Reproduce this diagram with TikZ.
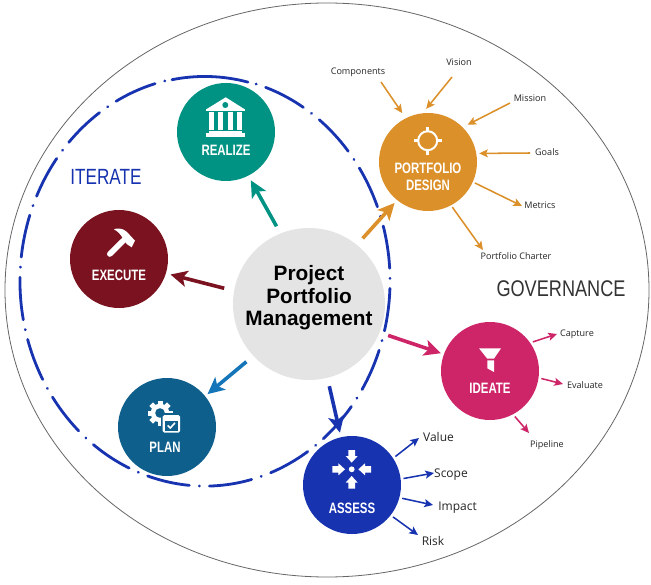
\documentclass[tikz,border=0pt]{standalone}
\usepackage{fontspec}
\usetikzlibrary{arrows.meta}
\setmainfont{Liberation Sans}
\newfontfamily\opensans{Open Sans}
\definecolor{cteal}{HTML}{009383}
\definecolor{corange}{HTML}{DC9029}
\definecolor{cmaroon}{HTML}{7B1220}
\definecolor{cplan}{HTML}{0F5F8C}
\definecolor{cplanar}{HTML}{1475B8}
\definecolor{cblue}{HTML}{1733B0}
\definecolor{cpink}{HTML}{CE2568}
\definecolor{ccenter}{HTML}{E4E4E4}
\newcommand{\cond}[2][.76]{\scalebox{#1}[1]{#2}}
\tikzset{
  x=0.75pt,y=-0.75pt,
  disc/.style={circle,draw=none,fill=#1,minimum size=73.5pt,inner sep=0pt},
  disclabel/.style={text=white,font=\fontsize{11.3}{12.5}\selectfont\bfseries,align=center,inner sep=0pt},
  mainarrow/.style n args={3}{draw=#1,line width=2.7pt,-{Stealth[length=12.5pt,width=12pt,inset=3pt]},shorten <=#2,shorten >=#3},
  subarrow/.style={draw=#1,line width=1.15pt,-{Stealth[length=6.5pt,width=6pt,inset=1.4pt]}},
  small/.style={font=\opensans\fontsize{6.8}{8}\selectfont,text=black!85,inner sep=0pt,text height=5pt,text depth=0pt},
  medium/.style={font=\opensans\fontsize{9}{11}\selectfont,text=black!85,inner sep=0pt,text height=6.6pt,text depth=0pt},
  icon/.style={fill=white,draw=none},
  loop line/.style={cblue,line width=2.1pt,line cap=round},
}
\begin{document}
\begin{tikzpicture}
\useasboundingbox (0,0) rectangle (651,585);
\fill[white] (0,0) rectangle (651,585);
% enclosing ellipses
\draw[black!60,line width=0.6pt] (327,290) ellipse [x radius=322,y radius=287];
\draw[loop line,dash pattern=on 32.13pt off 7.45pt on 0.2pt off 7.45pt,dash phase=39.58pt]
  (256,84) arc [start angle=-74,end angle=257.8,x radius=185,y radius=205];
\draw[loop line] (172,79.7) arc [start angle=259.8,end angle=283.5,x radius=185,y radius=205];

% main nodes
\node[disc=ccenter,minimum size=114pt] (center) at (309,304) {};
\node[disc=cteal] (realize) at (226,132) {};
\node[disc=corange] (design) at (428,162) {};
\node[disc=cmaroon] (execute) at (119,259) {};
\node[disc=cplan] (plan) at (167,427) {};
\node[disc=cblue] (assess) at (352,485) {};
\node[disc=cpink] (ideate) at (490,371) {};

% titles
\node[font=\fontsize{15.6}{17}\selectfont\bfseries,align=center,inner sep=0pt] (title) at (309,298) {Project\\Portfolio\\Management};
\node[disclabel] (lrealize) at (226,150.5) {\cond{REALIZE}};
\node[disclabel] (ldesign) at (428,176.5) {\cond{PORTFOLIO}\\\cond{DESIGN}};
\node[disclabel] (lexecute) at (119,275.7) {\cond{EXECUTE}};
\node[disclabel] (lplan) at (165,447.5) {\cond{PLAN}};
\node[disclabel] (lassess) at (352,508.3) {\cond{ASSESS}};
\node[disclabel] (lideate) at (490,388.7) {\cond{IDEATE}};
\node[font=\fontsize{17}{20}\selectfont,text=black!80,inner sep=0pt] (gov) at (561,289) {\cond[.8]{GOVERNANCE}};
\node[font=\fontsize{16.5}{18}\selectfont,text=cblue,inner sep=0pt] (iter) at (106,177) {\cond[.78]{ITERATE}};

% main arrows
\draw[mainarrow={cteal}{6pt}{3.8pt}] (center.112) -- (realize.-63);
\draw[mainarrow={corange}{6.4pt}{2.7pt}] (center.51) -- (design.-129);
\draw[mainarrow={cmaroon}{7.5pt}{3.4pt}] (center.170.6) -- (execute.-17);
\draw[mainarrow={cplanar}{6.7pt}{2.2pt}] (center.-137) -- (plan.39.5);
\draw[mainarrow={cblue}{6.3pt}{3.3pt}] (center.-76.3) -- (assess.103);
\draw[mainarrow={cpink}{6.7pt}{2.2pt}] (center.-22) -- (ideate.160);

% portfolio design satellites
\node[small] (components) at (358,71) {Components};
\node[small] (vision) at (459,62) {Vision};
\node[small] (mission) at (530,98) {Mission};
\node[small] (goals) at (547,152) {Goals};
\node[small] (metrics) at (540,205) {Metrics};
\node[small] (charter) at (516,256) {Portfolio Charter};
\coordinate (c1) at (381,82);
\coordinate (c2) at (452,77);
\coordinate (c3) at (510,103);
\coordinate (c4) at (530,153);
\coordinate (c5) at (522,206);
\coordinate (c6) at (483,250);
\draw[subarrow=corange,shorten >=4.5pt] (c1) -- (design.117);
\draw[subarrow=corange,shorten >=4pt] (c2) -- (design.96);
\draw[subarrow=corange,shorten >=4pt] (c3) -- (design.45);
\draw[subarrow=corange,shorten >=2pt] (c4) -- (design.10);
\draw[subarrow=corange,shorten <=1.5pt] (design.-24) -- (c5);
\draw[subarrow=corange,shorten <=1.5pt] (design.-62) -- (c6);

% ideate satellites
\node[small] (capture) at (577,333) {Capture};
\node[small] (evaluate) at (585,385) {Evaluate};
\node[small] (pipeline) at (547,444) {Pipeline};
\coordinate (i1) at (557,334);
\coordinate (i2) at (563,384);
\coordinate (i3) at (529,433);
\draw[subarrow=cpink,shorten <=2pt] (ideate.35) -- (i1);
\draw[subarrow=cpink,shorten <=2pt] (ideate.-8) -- (i2);
\draw[subarrow=cpink,shorten <=2pt] (ideate.-62) -- (i3);

% assess satellites
\node[medium] (value) at (438.5,437) {Value};
\node[medium] (scope) at (451,473) {Scope};
\node[medium] (impact) at (457.5,506) {Impact};
\node[medium] (risk) at (433,541) {Risk};
\coordinate (a1) at (419,438);
\coordinate (a2) at (434,473);
\coordinate (a3) at (433,505);
\coordinate (a4) at (418,535);
\draw[subarrow=cblue,shorten <=2pt] (assess.33) -- (a1);
\draw[subarrow=cblue,shorten <=2pt] (assess.7) -- (a2);
\draw[subarrow=cblue,shorten <=2pt] (assess.-15) -- (a3);
\draw[subarrow=cblue,shorten <=2pt] (assess.-38) -- (a4);

% bank icon
\fill[icon] (206.3,109.3) -- (225.7,97.3) -- (244.7,109.3) -- cycle;
\fill[cteal] (225.3,105) circle [radius=3];
\fill[icon] (206.3,109.3) rectangle (244.7,110.8);
\foreach \cx in {209,218.3,227.7,236.7}{\fill[icon] (\cx,112.3) rectangle (\cx+5,130);}
\fill[icon] (209.3,131) rectangle (241.7,133.3);
\fill[icon] (206,133.3) rectangle (244.7,136.7);

% target icon
\draw[white,line width=1.5pt] (427.7,140.7) circle [radius=9.5];
\foreach \dx/\dy in {0/-1,0/1,1/0,-1/0}{
  \draw[white,line width=1.9pt] (427.7+9.5*\dx,140.7+9.5*\dy) -- (427.7+14*\dx,140.7+14*\dy);
}

% hammer icon
\draw[white,line width=4.2pt,line cap=round] (109.8,254) -- (126,238);
\fill[icon] (114,229.3) .. controls (117,228) and (122,227.8) .. (126.7,231.7) -- (135,240.7) -- (131.7,247.3) -- (126.7,244) -- (123.3,239.3) .. controls (121,234.5) and (118,231.5) .. (114,229.3) -- cycle;

% gear and calendar icon
\fill[icon] (160,413) circle [radius=9.3];
\foreach \a in {0,45,...,315}{
  \fill[icon,rotate around={\a:(160,413)}] (157.5,400.5) rectangle (162.5,406);
}
\fill[cplan] (160,413) circle [radius=4.8];
\fill[cplan] (160.7,413) rectangle (182,434.7);
\fill[icon,rounded corners=1.2pt] (162.7,415) rectangle (180,432.7);
\fill[cplan] (165,420.5) rectangle (177.7,430.5);
\draw[white,line width=1.2pt] (167.7,425.5) -- (170.3,428) -- (175,422.8);

% assess icon
\fill[icon] (351.7,469.3) circle [radius=2.9];
\foreach \a in {0,90,180,270}{
  \fill[icon,rotate around={\a:(351.7,469.3)}] (348.4,450) -- (355,450) -- (355,456) -- (357.7,456) -- (351.7,462.6) -- (345.7,456) -- (348.4,456) -- cycle;
}

% funnel icon
\fill[icon] (479,348.3) -- (501,348.3) -- (494,358.7) -- (487.3,358.7) -- cycle;
\fill[icon] (487.3,360.3) -- (494,360.3) -- (494,372) -- (487.3,368.3) -- cycle;
\end{tikzpicture}
\end{document}
